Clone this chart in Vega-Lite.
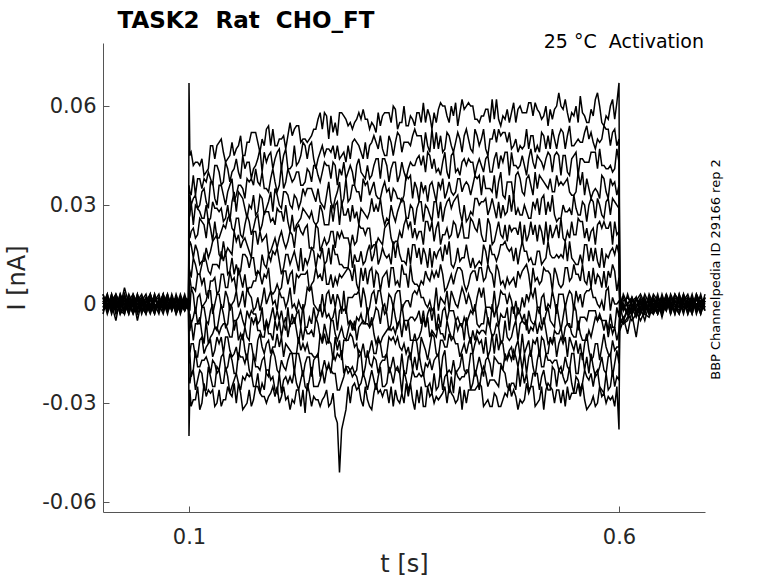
{
"$schema":"https://vega.github.io/schema/vega-lite/v6.json",
"width":602,"height":469,
"autosize":{"type":"none"},
"padding":{"left":103,"top":43,"right":73,"bottom":71},
"background":"white",
"config":{"view":{"stroke":null},"font":"DejaVu Sans"},
"layer":[
{
"data":{"values":[
{"t":0,"a":0.001,"b":-0.002,"c":0.003,"d":0,"e":-0.001,"f":0.002,"g":-0.003,"h":0.001,"i":0,"j":-0.002,"k":0.002,"l":-0.001,"m":0.003,"n":-0.002,"o":0},
{"t":0.005,"a":-0.002,"b":0.001,"c":-0.001,"d":0.003,"e":0,"f":-0.003,"g":0.002,"h":-0.001,"i":0.002,"j":0.001,"k":-0.002,"l":0.003,"m":-0.001,"n":0,"o":0.002},
{"t":0.01,"a":0.003,"b":-0.001,"c":0,"d":-0.002,"e":0.002,"f":0.001,"g":-0.001,"h":0.003,"i":-0.003,"j":0,"k":0.001,"l":-0.002,"m":0.002,"n":0.001,"o":-0.001},
{"t":0.015,"a":-0.001,"b":0.002,"c":-0.005,"d":0.001,"e":-0.002,"f":0,"g":0.003,"h":-0.002,"i":0.001,"j":0.002,"k":-0.001,"l":0,"m":-0.003,"n":0.003,"o":0.001},
{"t":0.02,"a":0,"b":-0.003,"c":0.002,"d":-0.001,"e":0.003,"f":-0.002,"g":0,"h":0.002,"i":-0.001,"j":-0.003,"k":0.003,"l":0.001,"m":0,"n":-0.001,"o":-0.002},
{"t":0.025,"a":0.002,"b":0.001,"c":-0.002,"d":0.003,"e":-0.001,"f":0.003,"g":-0.002,"h":0,"i":0.002,"j":-0.001,"k":0,"l":-0.003,"m":0.001,"n":0.005,"o":-0.003},
{"t":0.03,"a":-0.003,"b":0,"c":0.001,"d":-0.002,"e":0.001,"f":-0.001,"g":0.001,"h":-0.003,"i":0,"j":0.003,"k":-0.002,"l":0.002,"m":-0.002,"n":0,"o":0.002},
{"t":0.035,"a":0.001,"b":-0.002,"c":0.003,"d":0,"e":-0.003,"f":0.002,"g":-0.001,"h":0.002,"i":-0.002,"j":0,"k":0.001,"l":-0.001,"m":0.003,"n":-0.003,"o":0},
{"t":0.04,"a":-0.001,"b":0.003,"c":-0.001,"d":0.002,"e":0,"f":-0.002,"g":0.003,"h":-0.005,"i":0.001,"j":-0.002,"k":-0.003,"l":0.002,"m":0,"n":0.001,"o":-0.001},
{"t":0.045,"a":0.002,"b":-0.001,"c":0,"d":-0.003,"e":0.002,"f":0.001,"g":-0.002,"h":0.001,"i":0.003,"j":0.001,"k":0,"l":-0.002,"m":-0.001,"n":0.002,"o":0.001},
{"t":0.05,"a":0,"b":0.002,"c":-0.002,"d":0.001,"e":-0.001,"f":-0.003,"g":0,"h":0.003,"i":-0.001,"j":-0.001,"k":0.002,"l":0.001,"m":-0.003,"n":0,"o":-0.002},
{"t":0.055,"a":-0.002,"b":0,"c":0.001,"d":-0.001,"e":0.003,"f":0.002,"g":-0.003,"h":-0.002,"i":0,"j":0.002,"k":-0.001,"l":0.003,"m":0.001,"n":-0.002,"o":0.003},
{"t":0.06,"a":0.003,"b":-0.003,"c":0.002,"d":0.002,"e":-0.002,"f":0,"g":0.001,"h":0,"i":-0.003,"j":-0.002,"k":0.003,"l":-0.001,"m":0.002,"n":0.001,"o":-0.001},
{"t":0.065,"a":-0.001,"b":0.001,"c":-0.001,"d":-0.002,"e":0.001,"f":-0.001,"g":0.002,"h":-0.003,"i":0.002,"j":0,"k":-0.002,"l":0,"m":-0.001,"n":0.003,"o":0},
{"t":0.07,"a":0.001,"b":-0.002,"c":0.003,"d":0,"e":-0.001,"f":0.003,"g":-0.001,"h":0.002,"i":-0.001,"j":0.003,"k":0.001,"l":-0.003,"m":0,"n":-0.002,"o":0.002},
{"t":0.075,"a":-0.003,"b":0.002,"c":-0.002,"d":0.003,"e":0,"f":-0.002,"g":0.003,"h":-0.001,"i":0.001,"j":-0.001,"k":-0.002,"l":0.002,"m":-0.002,"n":0,"o":-0.001},
{"t":0.08,"a":0.002,"b":0,"c":0,"d":-0.001,"e":0.002,"f":0.001,"g":-0.002,"h":0.001,"i":-0.002,"j":0.002,"k":0,"l":-0.001,"m":0.003,"n":-0.001,"o":0.001},
{"t":0.085,"a":0,"b":-0.001,"c":0.002,"d":0.001,"e":-0.003,"f":0,"g":0.001,"h":-0.002,"i":0.003,"j":-0.002,"k":0.002,"l":0.001,"m":-0.001,"n":0.002,"o":-0.003},
{"t":0.09,"a":-0.002,"b":0.003,"c":-0.001,"d":-0.002,"e":0.001,"f":-0.001,"g":0,"h":0.002,"i":-0.001,"j":0.001,"k":-0.001,"l":-0.002,"m":0.002,"n":-0.003,"o":0},
{"t":0.095,"a":0.001,"b":-0.001,"c":0.001,"d":0.002,"e":-0.002,"f":0.002,"g":-0.002,"h":0,"i":0.001,"j":-0.001,"k":0.003,"l":0,"m":-0.002,"n":0.001,"o":0.002},
{"t":0.0995,"a":-0.001,"b":0,"c":-0.002,"d":0,"e":0.001,"f":-0.001,"g":0.001,"h":-0.001,"i":0,"j":0.002,"k":-0.001,"l":0.001,"m":0,"n":-0.001,"o":0.001},
{"t":0.1,"a":-0.04,"b":-0.023,"c":-0.018,"d":-0.013,"e":-0.008,"f":-0.004,"g":0.001,"h":0.006,"i":0.011,"j":0.016,"k":0.021,"l":0.026,"m":0.031,"n":0.036,"o":0.067},
{"t":0.101,"a":-0.026,"b":-0.024,"c":-0.015,"d":-0.015,"e":-0.008,"f":-0.003,"g":-0.002,"h":0.008,"i":0.01,"j":0.019,"k":0.02,"l":0.027,"m":0.033,"n":0.034,"o":0.045},
{"t":0.105,"a":-0.029,"b":-0.02,"c":-0.02,"d":-0.012,"e":-0.011,"f":-0.004,"g":0.003,"h":0.005,"i":0.014,"j":0.014,"k":0.023,"l":0.024,"m":0.032,"n":0.039,"o":0.042},
{"t":0.11,"a":-0.025,"b":-0.023,"c":-0.019,"d":-0.016,"e":-0.006,"f":-0.006,"g":0.002,"h":0.009,"i":0.009,"j":0.016,"k":0.021,"l":0.029,"m":0.029,"n":0.038,"o":0.043},
{"t":0.115,"a":-0.03,"b":-0.021,"c":-0.017,"d":-0.01,"e":-0.009,"f":-0.001,"g":-0.001,"h":0.006,"i":0.012,"j":0.013,"k":0.025,"l":0.026,"m":0.034,"n":0.035,"o":0.044},
{"t":0.12,"a":-0.028,"b":-0.026,"c":-0.016,"d":-0.013,"e":-0.005,"f":-0.005,"g":0.001,"h":0.003,"i":0.013,"j":0.017,"k":0.02,"l":0.03,"m":0.031,"n":0.037,"o":0.04},
{"t":0.125,"a":-0.027,"b":-0.022,"c":-0.021,"d":-0.011,"e":-0.01,"f":-0.002,"g":0.004,"h":0.007,"i":0.009,"j":0.016,"k":0.023,"l":0.026,"m":0.037,"n":0.038,"o":0.048},
{"t":0.13,"a":-0.031,"b":-0.025,"c":-0.018,"d":-0.014,"e":-0.007,"f":-0.007,"g":0,"h":0.008,"i":0.012,"j":0.02,"k":0.025,"l":0.029,"m":0.032,"n":0.042,"o":0.044},
{"t":0.135,"a":-0.026,"b":-0.02,"c":-0.02,"d":-0.012,"e":-0.009,"f":-0.004,"g":0.003,"h":0.004,"i":0.011,"j":0.015,"k":0.02,"l":0.028,"m":0.036,"n":0.04,"o":0.049},
{"t":0.14,"a":-0.029,"b":-0.024,"c":-0.015,"d":-0.015,"e":-0.006,"f":-0.003,"g":-0.001,"h":0.009,"i":0.013,"j":0.019,"k":0.024,"l":0.025,"m":0.033,"n":0.037,"o":0.046},
{"t":0.145,"a":-0.025,"b":-0.022,"c":-0.019,"d":-0.01,"e":-0.008,"f":-0.006,"g":0.002,"h":0.005,"i":0.009,"j":0.017,"k":0.026,"l":0.03,"m":0.034,"n":0.041,"o":0.044},
{"t":0.15,"a":-0.028,"b":-0.025,"c":-0.017,"d":-0.016,"e":-0.01,"f":-0.001,"g":0,"h":0.007,"i":0.014,"j":0.015,"k":0.023,"l":0.031,"m":0.038,"n":0.04,"o":0.049},
{"t":0.155,"a":-0.03,"b":-0.021,"c":-0.021,"d":-0.013,"e":-0.005,"f":-0.005,"g":0.004,"h":0.004,"i":0.012,"j":0.019,"k":0.026,"l":0.028,"m":0.033,"n":0.044,"o":0.047},
{"t":0.16,"a":-0.027,"b":-0.026,"c":-0.016,"d":-0.011,"e":-0.009,"f":-0.002,"g":0.001,"h":0.008,"i":0.01,"j":0.017,"k":0.021,"l":0.033,"m":0.036,"n":0.038,"o":0.051},
{"t":0.165,"a":-0.031,"b":-0.023,"c":-0.018,"d":-0.014,"e":-0.007,"f":-0.007,"g":-0.001,"h":0.009,"i":0.015,"j":0.02,"k":0.024,"l":0.029,"m":0.032,"n":0.041,"o":0.045},
{"t":0.17,"a":-0.026,"b":-0.022,"c":-0.02,"d":-0.012,"e":-0.011,"f":-0.004,"g":0.003,"h":0.005,"i":0.011,"j":0.016,"k":0.025,"l":0.03,"m":0.037,"n":0.043,"o":0.049},
{"t":0.175,"a":-0.029,"b":-0.025,"c":-0.015,"d":-0.016,"e":-0.006,"f":-0.003,"g":-0.002,"h":0.007,"i":0.014,"j":0.022,"k":0.023,"l":0.033,"m":0.036,"n":0.041,"o":0.052},
{"t":0.18,"a":-0.025,"b":-0.021,"c":-0.019,"d":-0.011,"e":-0.008,"f":-0.006,"g":0.002,"h":0.01,"i":0.01,"j":0.018,"k":0.027,"l":0.028,"m":0.037,"n":0.044,"o":0.049},
{"t":0.185,"a":-0.028,"b":-0.024,"c":-0.017,"d":-0.013,"e":-0.01,"f":-0.001,"g":0.001,"h":0.006,"i":0.015,"j":0.019,"k":0.024,"l":0.032,"m":0.04,"n":0.04,"o":0.05},
{"t":0.19,"a":-0.03,"b":-0.02,"c":-0.021,"d":-0.012,"e":-0.005,"f":-0.005,"g":0,"h":0.008,"i":0.011,"j":0.021,"k":0.028,"l":0.029,"m":0.035,"n":0.043,"o":0.053},
{"t":0.195,"a":-0.027,"b":-0.023,"c":-0.016,"d":-0.015,"e":-0.009,"f":-0.004,"g":0.004,"h":0.004,"i":0.013,"j":0.016,"k":0.025,"l":0.034,"m":0.038,"n":0.046,"o":0.048},
{"t":0.2,"a":-0.028,"b":-0.026,"c":-0.016,"d":-0.013,"e":-0.005,"f":-0.005,"g":0.001,"h":0.004,"i":0.015,"j":0.02,"k":0.024,"l":0.035,"m":0.037,"n":0.044,"o":0.048},
{"t":0.205,"a":-0.03,"b":-0.021,"c":-0.021,"d":-0.013,"e":-0.005,"f":-0.005,"g":0.004,"h":0.004,"i":0.013,"j":0.02,"k":0.028,"l":0.03,"m":0.036,"n":0.047,"o":0.05},
{"t":0.21,"a":-0.025,"b":-0.023,"c":-0.019,"d":-0.016,"e":-0.006,"f":-0.006,"g":0.002,"h":0.01,"i":0.011,"j":0.019,"k":0.025,"l":0.034,"m":0.035,"n":0.045,"o":0.051},
{"t":0.215,"a":-0.028,"b":-0.024,"c":-0.017,"d":-0.013,"e":-0.01,"f":-0.001,"g":0.001,"h":0.006,"i":0.015,"j":0.019,"k":0.025,"l":0.033,"m":0.041,"n":0.041,"o":0.051},
{"t":0.22,"a":-0.029,"b":-0.024,"c":-0.015,"d":-0.015,"e":-0.006,"f":-0.003,"g":-0.001,"h":0.01,"i":0.014,"j":0.021,"k":0.027,"l":0.029,"m":0.037,"n":0.042,"o":0.051},
{"t":0.225,"a":-0.026,"b":-0.024,"c":-0.015,"d":-0.015,"e":-0.008,"f":-0.003,"g":-0.002,"h":0.009,"i":0.013,"j":0.023,"k":0.024,"l":0.032,"m":0.04,"n":0.042,"o":0.054},
{"t":0.23,"a":-0.031,"b":-0.023,"c":-0.018,"d":-0.014,"e":-0.007,"f":-0.007,"g":-0.001,"h":0.009,"i":0.017,"j":0.022,"k":0.026,"l":0.031,"m":0.036,"n":0.045,"o":0.049},
{"t":0.235,"a":-0.033,"b":-0.025,"c":-0.018,"d":-0.014,"e":-0.007,"f":-0.007,"g":0,"h":0.009,"i":0.014,"j":0.023,"k":0.028,"l":0.033,"m":0.037,"n":0.048,"o":0.05},
{"t":0.24,"a":-0.027,"b":-0.023,"c":-0.016,"d":-0.015,"e":-0.009,"f":-0.004,"g":0.004,"h":0.004,"i":0.014,"j":0.017,"k":0.026,"l":0.035,"m":0.04,"n":0.048,"o":0.05},
{"t":0.245,"a":-0.028,"b":-0.025,"c":-0.017,"d":-0.016,"e":-0.01,"f":-0.001,"g":0,"h":0.007,"i":0.016,"j":0.017,"k":0.025,"l":0.033,"m":0.042,"n":0.044,"o":0.053},
{"t":0.25,"a":-0.029,"b":-0.025,"c":-0.015,"d":-0.016,"e":-0.006,"f":-0.003,"g":-0.002,"h":0.008,"i":0.015,"j":0.023,"k":0.025,"l":0.035,"m":0.039,"n":0.044,"o":0.056},
{"t":0.255,"a":-0.029,"b":-0.02,"c":-0.02,"d":-0.012,"e":-0.011,"f":-0.004,"g":0.003,"h":0.007,"i":0.017,"j":0.018,"k":0.028,"l":0.03,"m":0.04,"n":0.048,"o":0.053},
{"t":0.26,"a":-0.026,"b":-0.02,"c":-0.02,"d":-0.012,"e":-0.009,"f":-0.004,"g":0.003,"h":0.006,"i":0.013,"j":0.018,"k":0.024,"l":0.033,"m":0.042,"n":0.047,"o":0.057},
{"t":0.265,"a":-0.03,"b":-0.02,"c":-0.021,"d":-0.012,"e":-0.005,"f":-0.005,"g":0,"h":0.009,"i":0.012,"j":0.022,"k":0.03,"l":0.031,"m":0.038,"n":0.046,"o":0.057},
{"t":0.27,"a":-0.034,"b":-0.021,"c":-0.017,"d":-0.01,"e":-0.009,"f":-0.001,"g":-0.001,"h":0.008,"i":0.015,"j":0.017,"k":0.03,"l":0.032,"m":0.042,"n":0.044,"o":0.055},
{"t":0.275,"a":-0.051,"b":-0.026,"c":-0.016,"d":-0.011,"e":-0.009,"f":-0.002,"g":0.001,"h":0.009,"i":0.012,"j":0.02,"k":0.024,"l":0.037,"m":0.041,"n":0.044,"o":0.058},
{"t":0.28,"a":-0.035,"b":-0.022,"c":-0.021,"d":-0.011,"e":-0.01,"f":-0.002,"g":0.004,"h":0.009,"i":0.011,"j":0.02,"k":0.027,"l":0.032,"m":0.043,"n":0.046,"o":0.057},
{"t":0.285,"a":-0.025,"b":-0.021,"c":-0.019,"d":-0.011,"e":-0.008,"f":-0.006,"g":0.002,"h":0.011,"i":0.011,"j":0.02,"k":0.029,"l":0.031,"m":0.04,"n":0.048,"o":0.054},
{"t":0.29,"a":-0.025,"b":-0.022,"c":-0.019,"d":-0.01,"e":-0.008,"f":-0.006,"g":0.002,"h":0.007,"i":0.011,"j":0.021,"k":0.03,"l":0.036,"m":0.04,"n":0.049,"o":0.053},
{"t":0.295,"a":-0.026,"b":-0.022,"c":-0.02,"d":-0.012,"e":-0.011,"f":-0.004,"g":0.003,"h":0.006,"i":0.013,"j":0.019,"k":0.028,"l":0.034,"m":0.042,"n":0.049,"o":0.056},
{"t":0.3,"a":-0.029,"b":-0.024,"c":-0.015,"d":-0.015,"e":-0.006,"f":-0.003,"g":-0.001,"h":0.011,"i":0.016,"j":0.023,"k":0.029,"l":0.031,"m":0.04,"n":0.046,"o":0.056},
{"t":0.305,"a":-0.025,"b":-0.023,"c":-0.019,"d":-0.016,"e":-0.006,"f":-0.006,"g":0.002,"h":0.011,"i":0.013,"j":0.021,"k":0.027,"l":0.036,"m":0.038,"n":0.049,"o":0.056},
{"t":0.31,"a":-0.031,"b":-0.023,"c":-0.018,"d":-0.014,"e":-0.007,"f":-0.007,"g":-0.001,"h":0.01,"i":0.018,"j":0.023,"k":0.028,"l":0.033,"m":0.038,"n":0.048,"o":0.053},
{"t":0.315,"a":-0.027,"b":-0.023,"c":-0.016,"d":-0.015,"e":-0.009,"f":-0.004,"g":0.004,"h":0.005,"i":0.015,"j":0.018,"k":0.028,"l":0.037,"m":0.042,"n":0.051,"o":0.054},
{"t":0.32,"a":-0.027,"b":-0.022,"c":-0.021,"d":-0.011,"e":-0.01,"f":-0.002,"g":0.004,"h":0.009,"i":0.012,"j":0.02,"k":0.028,"l":0.032,"m":0.044,"n":0.047,"o":0.058},
{"t":0.325,"a":-0.028,"b":-0.025,"c":-0.017,"d":-0.016,"e":-0.01,"f":-0.001,"g":0,"h":0.008,"i":0.017,"j":0.018,"k":0.027,"l":0.035,"m":0.044,"n":0.047,"o":0.057},
{"t":0.33,"a":-0.026,"b":-0.024,"c":-0.015,"d":-0.015,"e":-0.008,"f":-0.003,"g":-0.002,"h":0.01,"i":0.014,"j":0.024,"k":0.026,"l":0.034,"m":0.042,"n":0.045,"o":0.058},
{"t":0.335,"a":-0.025,"b":-0.021,"c":-0.019,"d":-0.011,"e":-0.008,"f":-0.006,"g":0.002,"h":0.011,"i":0.012,"j":0.02,"k":0.03,"l":0.031,"m":0.041,"n":0.049,"o":0.055},
{"t":0.34,"a":-0.026,"b":-0.02,"c":-0.02,"d":-0.012,"e":-0.009,"f":-0.004,"g":0.003,"h":0.006,"i":0.014,"j":0.019,"k":0.025,"l":0.034,"m":0.043,"n":0.049,"o":0.059},
{"t":0.345,"a":-0.03,"b":-0.021,"c":-0.021,"d":-0.013,"e":-0.005,"f":-0.005,"g":0.004,"h":0.005,"i":0.015,"j":0.022,"k":0.03,"l":0.032,"m":0.039,"n":0.051,"o":0.055},
{"t":0.35,"a":-0.03,"b":-0.02,"c":-0.021,"d":-0.012,"e":-0.005,"f":-0.005,"g":0,"h":0.009,"i":0.013,"j":0.024,"k":0.031,"l":0.033,"m":0.04,"n":0.049,"o":0.06},
{"t":0.355,"a":-0.028,"b":-0.026,"c":-0.016,"d":-0.013,"e":-0.005,"f":-0.005,"g":0.001,"h":0.005,"i":0.017,"j":0.023,"k":0.026,"l":0.038,"m":0.041,"n":0.049,"o":0.054},
{"t":0.36,"a":-0.029,"b":-0.02,"c":-0.02,"d":-0.012,"e":-0.011,"f":-0.004,"g":0.003,"h":0.007,"i":0.018,"j":0.02,"k":0.029,"l":0.032,"m":0.042,"n":0.051,"o":0.056},
{"t":0.365,"a":-0.026,"b":-0.022,"c":-0.02,"d":-0.012,"e":-0.011,"f":-0.004,"g":0.003,"h":0.006,"i":0.014,"j":0.02,"k":0.029,"l":0.035,"m":0.044,"n":0.051,"o":0.058},
{"t":0.37,"a":-0.025,"b":-0.022,"c":-0.019,"d":-0.01,"e":-0.008,"f":-0.006,"g":0.002,"h":0.007,"i":0.012,"j":0.022,"k":0.031,"l":0.037,"m":0.042,"n":0.051,"o":0.055},
{"t":0.375,"a":-0.031,"b":-0.025,"c":-0.018,"d":-0.014,"e":-0.007,"f":-0.007,"g":0,"h":0.01,"i":0.015,"j":0.025,"k":0.03,"l":0.036,"m":0.04,"n":0.052,"o":0.055},
{"t":0.38,"a":-0.028,"b":-0.024,"c":-0.017,"d":-0.013,"e":-0.01,"f":-0.001,"g":0.001,"h":0.007,"i":0.017,"j":0.022,"k":0.027,"l":0.036,"m":0.045,"n":0.046,"o":0.057},
{"t":0.385,"a":-0.03,"b":-0.021,"c":-0.017,"d":-0.01,"e":-0.009,"f":-0.001,"g":-0.001,"h":0.008,"i":0.016,"j":0.019,"k":0.031,"l":0.034,"m":0.044,"n":0.047,"o":0.058},
{"t":0.39,"a":-0.029,"b":-0.025,"c":-0.015,"d":-0.016,"e":-0.006,"f":-0.003,"g":-0.002,"h":0.008,"i":0.016,"j":0.025,"k":0.026,"l":0.037,"m":0.041,"n":0.047,"o":0.059},
{"t":0.395,"a":-0.027,"b":-0.026,"c":-0.016,"d":-0.011,"e":-0.009,"f":-0.002,"g":0.001,"h":0.009,"i":0.013,"j":0.021,"k":0.025,"l":0.038,"m":0.043,"n":0.046,"o":0.06},
{"t":0.4,"a":-0.03,"b":-0.021,"c":-0.021,"d":-0.013,"e":-0.005,"f":-0.005,"g":0.004,"h":0.005,"i":0.015,"j":0.023,"k":0.031,"l":0.034,"m":0.04,"n":0.052,"o":0.057},
{"t":0.405,"a":-0.027,"b":-0.022,"c":-0.021,"d":-0.011,"e":-0.01,"f":-0.002,"g":0.004,"h":0.009,"i":0.012,"j":0.021,"k":0.029,"l":0.034,"m":0.045,"n":0.048,"o":0.06},
{"t":0.41,"a":-0.03,"b":-0.02,"c":-0.021,"d":-0.012,"e":-0.005,"f":-0.005,"g":0,"h":0.009,"i":0.013,"j":0.024,"k":0.032,"l":0.034,"m":0.04,"n":0.049,"o":0.061},
{"t":0.415,"a":-0.025,"b":-0.023,"c":-0.019,"d":-0.016,"e":-0.006,"f":-0.006,"g":0.002,"h":0.011,"i":0.013,"j":0.022,"k":0.028,"l":0.038,"m":0.039,"n":0.05,"o":0.058},
{"t":0.42,"a":-0.026,"b":-0.022,"c":-0.02,"d":-0.012,"e":-0.011,"f":-0.004,"g":0.003,"h":0.006,"i":0.014,"j":0.02,"k":0.03,"l":0.036,"m":0.044,"n":0.051,"o":0.059},
{"t":0.425,"a":-0.026,"b":-0.02,"c":-0.02,"d":-0.012,"e":-0.009,"f":-0.004,"g":0.003,"h":0.006,"i":0.014,"j":0.02,"k":0.026,"l":0.036,"m":0.044,"n":0.05,"o":0.061},
{"t":0.43,"a":-0.026,"b":-0.024,"c":-0.015,"d":-0.015,"e":-0.008,"f":-0.003,"g":-0.002,"h":0.01,"i":0.014,"j":0.025,"k":0.027,"l":0.036,"m":0.043,"n":0.046,"o":0.06},
{"t":0.435,"a":-0.025,"b":-0.022,"c":-0.019,"d":-0.01,"e":-0.008,"f":-0.006,"g":0.002,"h":0.007,"i":0.012,"j":0.022,"k":0.032,"l":0.038,"m":0.042,"n":0.051,"o":0.056},
{"t":0.44,"a":-0.025,"b":-0.021,"c":-0.019,"d":-0.011,"e":-0.008,"f":-0.006,"g":0.002,"h":0.011,"i":0.012,"j":0.021,"k":0.031,"l":0.033,"m":0.042,"n":0.05,"o":0.057},
{"t":0.445,"a":-0.03,"b":-0.021,"c":-0.017,"d":-0.01,"e":-0.009,"f":-0.001,"g":-0.001,"h":0.008,"i":0.016,"j":0.019,"k":0.032,"l":0.035,"m":0.044,"n":0.047,"o":0.059},
{"t":0.45,"a":-0.031,"b":-0.023,"c":-0.018,"d":-0.014,"e":-0.007,"f":-0.007,"g":-0.001,"h":0.01,"i":0.018,"j":0.024,"k":0.029,"l":0.035,"m":0.04,"n":0.05,"o":0.055},
{"t":0.455,"a":-0.027,"b":-0.023,"c":-0.016,"d":-0.015,"e":-0.009,"f":-0.004,"g":0.004,"h":0.005,"i":0.015,"j":0.019,"k":0.029,"l":0.039,"m":0.044,"n":0.053,"o":0.056},
{"t":0.46,"a":-0.031,"b":-0.025,"c":-0.018,"d":-0.014,"e":-0.007,"f":-0.007,"g":0,"h":0.01,"i":0.015,"j":0.025,"k":0.031,"l":0.037,"m":0.041,"n":0.053,"o":0.056},
{"t":0.465,"a":-0.029,"b":-0.02,"c":-0.02,"d":-0.012,"e":-0.011,"f":-0.004,"g":0.003,"h":0.007,"i":0.018,"j":0.02,"k":0.03,"l":0.033,"m":0.043,"n":0.052,"o":0.057},
{"t":0.47,"a":-0.028,"b":-0.025,"c":-0.017,"d":-0.016,"e":-0.01,"f":-0.001,"g":0,"h":0.008,"i":0.017,"j":0.019,"k":0.028,"l":0.037,"m":0.046,"n":0.049,"o":0.059},
{"t":0.475,"a":-0.028,"b":-0.024,"c":-0.017,"d":-0.013,"e":-0.01,"f":-0.001,"g":0.001,"h":0.007,"i":0.017,"j":0.022,"k":0.028,"l":0.037,"m":0.046,"n":0.047,"o":0.058},
{"t":0.48,"a":-0.028,"b":-0.026,"c":-0.016,"d":-0.013,"e":-0.005,"f":-0.005,"g":0.001,"h":0.005,"i":0.017,"j":0.023,"k":0.027,"l":0.039,"m":0.042,"n":0.05,"o":0.055},
{"t":0.485,"a":-0.029,"b":-0.025,"c":-0.015,"d":-0.016,"e":-0.006,"f":-0.003,"g":-0.002,"h":0.008,"i":0.016,"j":0.025,"k":0.027,"l":0.038,"m":0.042,"n":0.048,"o":0.06},
{"t":0.49,"a":-0.029,"b":-0.024,"c":-0.015,"d":-0.015,"e":-0.006,"f":-0.003,"g":-0.001,"h":0.011,"i":0.016,"j":0.024,"k":0.03,"l":0.033,"m":0.042,"n":0.048,"o":0.058},
{"t":0.495,"a":-0.027,"b":-0.026,"c":-0.016,"d":-0.011,"e":-0.009,"f":-0.002,"g":0.001,"h":0.009,"i":0.013,"j":0.021,"k":0.026,"l":0.039,"m":0.044,"n":0.047,"o":0.061},
{"t":0.5,"a":-0.025,"b":-0.021,"c":-0.019,"d":-0.011,"e":-0.008,"f":-0.006,"g":0.002,"h":0.011,"i":0.012,"j":0.021,"k":0.031,"l":0.033,"m":0.043,"n":0.051,"o":0.057},
{"t":0.505,"a":-0.03,"b":-0.021,"c":-0.017,"d":-0.01,"e":-0.009,"f":-0.001,"g":-0.001,"h":0.008,"i":0.016,"j":0.019,"k":0.032,"l":0.035,"m":0.045,"n":0.048,"o":0.059},
{"t":0.51,"a":-0.025,"b":-0.022,"c":-0.019,"d":-0.01,"e":-0.008,"f":-0.006,"g":0.002,"h":0.007,"i":0.012,"j":0.022,"k":0.032,"l":0.038,"m":0.043,"n":0.052,"o":0.056},
{"t":0.515,"a":-0.026,"b":-0.024,"c":-0.015,"d":-0.015,"e":-0.008,"f":-0.003,"g":-0.002,"h":0.01,"i":0.014,"j":0.025,"k":0.027,"l":0.036,"m":0.044,"n":0.047,"o":0.06},
{"t":0.52,"a":-0.025,"b":-0.026,"c":-0.017,"d":-0.01,"e":-0.011,"f":-0.005,"g":-0.001,"h":0.009,"i":0.015,"j":0.024,"k":0.028,"l":0.038,"m":0.045,"n":0.047,"o":0.059},
{"t":0.525,"a":-0.03,"b":-0.02,"c":-0.017,"d":-0.01,"e":-0.008,"f":-0.007,"g":0.001,"h":0.011,"i":0.014,"j":0.022,"k":0.027,"l":0.034,"m":0.045,"n":0.05,"o":0.059},
{"t":0.53,"a":-0.026,"b":-0.02,"c":-0.02,"d":-0.012,"e":-0.009,"f":-0.004,"g":0.003,"h":0.006,"i":0.014,"j":0.02,"k":0.026,"l":0.036,"m":0.045,"n":0.051,"o":0.064},
{"t":0.535,"a":-0.026,"b":-0.022,"c":-0.02,"d":-0.012,"e":-0.011,"f":-0.004,"g":0.003,"h":0.006,"i":0.014,"j":0.02,"k":0.03,"l":0.036,"m":0.045,"n":0.052,"o":0.059},
{"t":0.54,"a":-0.025,"b":-0.023,"c":-0.019,"d":-0.016,"e":-0.006,"f":-0.006,"g":0.002,"h":0.011,"i":0.013,"j":0.022,"k":0.028,"l":0.038,"m":0.04,"n":0.051,"o":0.058},
{"t":0.545,"a":-0.027,"b":-0.024,"c":-0.015,"d":-0.012,"e":-0.009,"f":-0.007,"g":0.003,"h":0.008,"i":0.014,"j":0.025,"k":0.027,"l":0.033,"m":0.044,"n":0.048,"o":0.058},
{"t":0.55,"a":-0.027,"b":-0.022,"c":-0.021,"d":-0.011,"e":-0.01,"f":-0.002,"g":0.004,"h":0.009,"i":0.012,"j":0.021,"k":0.029,"l":0.034,"m":0.046,"n":0.049,"o":0.06},
{"t":0.555,"a":-0.028,"b":-0.026,"c":-0.015,"d":-0.012,"e":-0.009,"f":-0.004,"g":0.003,"h":0.007,"i":0.015,"j":0.025,"k":0.027,"l":0.036,"m":0.044,"n":0.049,"o":0.063},
{"t":0.56,"a":-0.029,"b":-0.02,"c":-0.02,"d":-0.012,"e":-0.011,"f":-0.004,"g":0.003,"h":0.007,"i":0.018,"j":0.02,"k":0.03,"l":0.033,"m":0.043,"n":0.052,"o":0.057},
{"t":0.565,"a":-0.031,"b":-0.023,"c":-0.021,"d":-0.014,"e":-0.008,"f":-0.002,"g":0.004,"h":0.01,"i":0.013,"j":0.019,"k":0.03,"l":0.035,"m":0.043,"n":0.05,"o":0.055},
{"t":0.57,"a":-0.028,"b":-0.025,"c":-0.019,"d":-0.016,"e":-0.007,"f":-0.002,"g":0.002,"h":0.011,"i":0.013,"j":0.023,"k":0.031,"l":0.034,"m":0.046,"n":0.049,"o":0.057},
{"t":0.575,"a":-0.03,"b":-0.02,"c":-0.021,"d":-0.012,"e":-0.005,"f":-0.005,"g":0,"h":0.009,"i":0.013,"j":0.024,"k":0.032,"l":0.034,"m":0.041,"n":0.05,"o":0.064},
{"t":0.58,"a":-0.028,"b":-0.026,"c":-0.016,"d":-0.013,"e":-0.005,"f":-0.005,"g":0.001,"h":0.005,"i":0.017,"j":0.023,"k":0.027,"l":0.039,"m":0.042,"n":0.05,"o":0.055},
{"t":0.585,"a":-0.03,"b":-0.021,"c":-0.021,"d":-0.013,"e":-0.005,"f":-0.005,"g":0.004,"h":0.005,"i":0.015,"j":0.023,"k":0.031,"l":0.034,"m":0.041,"n":0.053,"o":0.057},
{"t":0.59,"a":-0.029,"b":-0.025,"c":-0.015,"d":-0.016,"e":-0.006,"f":-0.003,"g":-0.002,"h":0.008,"i":0.016,"j":0.025,"k":0.027,"l":0.038,"m":0.042,"n":0.048,"o":0.06},
{"t":0.595,"a":-0.031,"b":-0.025,"c":-0.018,"d":-0.014,"e":-0.007,"f":-0.007,"g":0,"h":0.01,"i":0.015,"j":0.025,"k":0.031,"l":0.037,"m":0.041,"n":0.053,"o":0.056},
{"t":0.6,"a":-0.038,"b":-0.023,"c":-0.018,"d":-0.013,"e":-0.008,"f":-0.004,"g":0.001,"h":0.008,"i":0.015,"j":0.022,"k":0.029,"l":0.036,"m":0.043,"n":0.05,"o":0.067},
{"t":0.601,"a":0.001,"b":-0.002,"c":0.003,"d":0,"e":-0.003,"f":0.002,"g":-0.001,"h":0,"i":-0.004,"j":-0.002,"k":-0.004,"l":-0.006,"m":-0.002,"n":-0.008,"o":-0.005},
{"t":0.605,"a":-0.002,"b":0.003,"c":-0.001,"d":0.002,"e":0.001,"f":-0.001,"g":0,"h":-0.005,"i":0,"j":-0.001,"k":-0.006,"l":-0.004,"m":-0.001,"n":-0.005,"o":-0.006},
{"t":0.61,"a":0.003,"b":0,"c":-0.002,"d":-0.001,"e":0.002,"f":0,"g":-0.003,"h":-0.001,"i":-0.003,"j":0,"k":-0.004,"l":-0.009,"m":-0.003,"n":-0.002,"o":-0.005},
{"t":0.615,"a":-0.001,"b":0.002,"c":0.001,"d":-0.003,"e":0,"f":0.002,"g":0.001,"h":-0.003,"i":0.002,"j":-0.002,"k":-0.001,"l":-0.002,"m":-0.005,"n":-0.003,"o":0},
{"t":0.62,"a":0.002,"b":-0.003,"c":0,"d":0.001,"e":-0.002,"f":-0.001,"g":0.002,"h":-0.001,"i":-0.003,"j":0.002,"k":-0.004,"l":-0.001,"m":-0.003,"n":-0.01,"o":-0.002},
{"t":0.625,"a":0,"b":0.001,"c":-0.001,"d":0.003,"e":-0.001,"f":0.001,"g":-0.002,"h":0.002,"i":-0.001,"j":-0.003,"k":-0.001,"l":-0.003,"m":0.001,"n":-0.001,"o":-0.005},
{"t":0.63,"a":-0.003,"b":-0.001,"c":0.002,"d":0,"e":0.003,"f":-0.002,"g":0,"h":-0.001,"i":0.001,"j":0,"k":-0.005,"l":0.001,"m":-0.003,"n":0,"o":-0.002},
{"t":0.635,"a":0.001,"b":0.002,"c":-0.003,"d":-0.002,"e":0,"f":0.003,"g":-0.001,"h":0.002,"i":-0.003,"j":0.001,"k":0,"l":-0.002,"m":-0.004,"n":-0.003,"o":0},
{"t":0.64,"a":-0.002,"b":0,"c":0.001,"d":0.002,"e":-0.003,"f":0,"g":0.003,"h":-0.002,"i":0.002,"j":-0.001,"k":-0.001,"l":-0.003,"m":0,"n":0.002,"o":-0.002},
{"t":0.645,"a":0.002,"b":-0.002,"c":0,"d":-0.001,"e":0.001,"f":-0.003,"g":0.001,"h":0,"i":-0.001,"j":0.003,"k":-0.003,"l":0,"m":0.001,"n":-0.003,"o":0},
{"t":0.65,"a":-0.001,"b":0.003,"c":-0.002,"d":0.001,"e":0.002,"f":0.001,"g":-0.002,"h":-0.003,"i":0,"j":-0.002,"k":0.002,"l":-0.002,"m":-0.004,"n":0,"o":-0.003},
{"t":0.655,"a":0.003,"b":-0.001,"c":0.002,"d":-0.002,"e":-0.001,"f":0.002,"g":0,"h":0.001,"i":0.002,"j":0,"k":-0.001,"l":0.003,"m":0.001,"n":-0.002,"o":0},
{"t":0.66,"a":0,"b":0.001,"c":-0.003,"d":0.003,"e":0,"f":-0.002,"g":0.002,"h":-0.001,"i":-0.002,"j":0.001,"k":0.002,"l":-0.003,"m":0,"n":0.002,"o":-0.001},
{"t":0.665,"a":-0.002,"b":-0.003,"c":0.001,"d":0,"e":-0.002,"f":0.001,"g":-0.001,"h":0.003,"i":0.001,"j":-0.003,"k":0,"l":0.002,"m":-0.002,"n":0,"o":0.003},
{"t":0.67,"a":0.001,"b":0.002,"c":0,"d":-0.001,"e":0.003,"f":-0.001,"g":-0.003,"h":0,"i":-0.001,"j":0.002,"k":-0.002,"l":0,"m":0.003,"n":-0.003,"o":0.001},
{"t":0.675,"a":-0.003,"b":0,"c":0.002,"d":0.001,"e":-0.001,"f":0.003,"g":0.001,"h":-0.002,"i":0.003,"j":0,"k":0.001,"l":-0.001,"m":-0.001,"n":0.002,"o":-0.002},
{"t":0.68,"a":0.002,"b":-0.002,"c":-0.001,"d":-0.003,"e":0.001,"f":0,"g":0.002,"h":0.001,"i":-0.003,"j":-0.001,"k":0.003,"l":0.001,"m":0,"n":-0.001,"o":0},
{"t":0.685,"a":0,"b":0.001,"c":0.003,"d":0.002,"e":-0.002,"f":-0.002,"g":-0.001,"h":-0.003,"i":0,"j":0.002,"k":-0.001,"l":-0.002,"m":0.002,"n":0.001,"o":-0.003},
{"t":0.69,"a":-0.001,"b":-0.001,"c":-0.002,"d":0,"e":0.002,"f":0.002,"g":0.003,"h":0.002,"i":0.001,"j":-0.002,"k":0,"l":0.003,"m":-0.003,"n":0,"o":0.002},
{"t":0.695,"a":0.003,"b":0,"c":0.001,"d":-0.001,"e":-0.003,"f":-0.001,"g":0,"h":-0.001,"i":0.002,"j":0.001,"k":-0.003,"l":0,"m":0.001,"n":-0.002,"o":-0.001},
{"t":0.7,"a":-0.002,"b":0.002,"c":0,"d":0.002,"e":0.001,"f":0,"g":-0.002,"h":0.001,"i":-0.001,"j":-0.001,"k":0.002,"l":-0.001,"m":0,"n":0.003,"o":0.001},
{"t":0.1025,"a":-0.031,"b":-0.021,"c":-0.022,"d":-0.012,"e":-0.005,"f":-0.006,"g":0.005,"h":0.005,"i":0.008,"j":0.018,"k":0.022,"l":0.031,"m":0.03,"n":0.033,"o":0.046},
{"t":0.1075,"a":-0.029,"b":-0.026,"c":-0.014,"d":-0.016,"e":-0.006,"f":-0.001,"g":-0.003,"h":0.004,"i":0.012,"j":0.018,"k":0.02,"l":0.03,"m":0.033,"n":0.033,"o":0.043},
{"t":0.1125,"a":-0.032,"b":-0.02,"c":-0.019,"d":-0.011,"e":-0.004,"f":-0.006,"g":0.003,"h":0.009,"i":0.009,"j":0.012,"k":0.026,"l":0.028,"m":0.03,"n":0.038,"o":0.042},
{"t":0.1175,"a":-0.024,"b":-0.026,"c":-0.017,"d":-0.015,"e":-0.012,"f":-0.001,"g":0,"h":0.008,"i":0.015,"j":0.013,"k":0.024,"l":0.026,"m":0.035,"n":0.038,"o":0.039},
{"t":0.1225,"a":-0.026,"b":-0.019,"c":-0.018,"d":-0.012,"e":-0.012,"f":-0.006,"g":0.004,"h":0.002,"i":0.01,"j":0.014,"k":0.026,"l":0.025,"m":0.029,"n":0.04,"o":0.041},
{"t":0.1275,"a":-0.026,"b":-0.025,"c":-0.017,"d":-0.016,"e":-0.009,"f":0,"g":-0.003,"h":0.007,"i":0.012,"j":0.019,"k":0.019,"l":0.031,"m":0.037,"n":0.036,"o":0.048},
{"t":0.1325,"a":-0.03,"b":-0.019,"c":-0.021,"d":-0.01,"e":-0.007,"f":-0.008,"g":0.003,"h":0.003,"i":0.012,"j":0.021,"k":0.02,"l":0.029,"m":0.03,"n":0.042,"o":0.048},
{"t":0.1375,"a":-0.031,"b":-0.024,"c":-0.016,"d":-0.01,"e":-0.007,"f":0,"g":-0.001,"h":0.009,"i":0.016,"j":0.014,"k":0.022,"l":0.029,"m":0.036,"n":0.036,"o":0.05},
{"t":0.1425,"a":-0.029,"b":-0.019,"c":-0.02,"d":-0.01,"e":-0.006,"f":-0.007,"g":0.004,"h":0.005,"i":0.016,"j":0.015,"k":0.023,"l":0.026,"m":0.03,"n":0.043,"o":0.043},
{"t":0.1475,"a":-0.027,"b":-0.027,"c":-0.015,"d":-0.014,"e":-0.01,"f":0,"g":-0.002,"h":0.01,"i":0.01,"j":0.016,"k":0.027,"l":0.025,"m":0.036,"n":0.037,"o":0.045},
{"t":0.1525,"a":-0.024,"b":-0.023,"c":-0.021,"d":-0.015,"e":-0.005,"f":-0.008,"g":0.001,"h":0.008,"i":0.009,"j":0.022,"k":0.022,"l":0.034,"m":0.031,"n":0.041,"o":0.045},
{"t":0.1575,"a":-0.024,"b":-0.024,"c":-0.015,"d":-0.017,"e":-0.011,"f":-0.004,"g":-0.001,"h":0.011,"i":0.009,"j":0.021,"k":0.026,"l":0.034,"m":0.036,"n":0.04,"o":0.048},
{"t":0.1625,"a":-0.032,"b":-0.022,"c":-0.016,"d":-0.009,"e":-0.011,"f":-0.005,"g":0.004,"h":0.005,"i":0.015,"j":0.019,"k":0.02,"l":0.032,"m":0.035,"n":0.045,"o":0.045},
{"t":0.1675,"a":-0.03,"b":-0.021,"c":-0.015,"d":-0.017,"e":-0.01,"f":-0.002,"g":0.005,"h":0.004,"i":0.014,"j":0.018,"k":0.027,"l":0.026,"m":0.038,"n":0.043,"o":0.049},
{"t":0.1725,"a":-0.031,"b":-0.021,"c":-0.022,"d":-0.012,"e":-0.004,"f":-0.002,"g":0.002,"h":0.005,"i":0.014,"j":0.014,"k":0.021,"l":0.029,"m":0.038,"n":0.038,"o":0.052},
{"t":0.1775,"a":-0.025,"b":-0.025,"c":-0.019,"d":-0.017,"e":-0.004,"f":-0.003,"g":-0.001,"h":0.007,"i":0.009,"j":0.022,"k":0.026,"l":0.027,"m":0.041,"n":0.042,"o":0.052},
{"t":0.1825,"a":-0.027,"b":-0.027,"c":-0.02,"d":-0.009,"e":-0.008,"f":-0.005,"g":-0.002,"h":0.009,"i":0.009,"j":0.022,"k":0.022,"l":0.033,"m":0.036,"n":0.047,"o":0.046},
{"t":0.1875,"a":-0.028,"b":-0.026,"c":-0.016,"d":-0.015,"e":-0.01,"f":-0.008,"g":0.005,"h":0.009,"i":0.012,"j":0.02,"k":0.028,"l":0.027,"m":0.035,"n":0.046,"o":0.048},
{"t":0.1925,"a":-0.028,"b":-0.02,"c":-0.022,"d":-0.011,"e":-0.009,"f":-0.007,"g":0.002,"h":0.011,"i":0.015,"j":0.015,"k":0.028,"l":0.031,"m":0.034,"n":0.045,"o":0.054},
{"t":0.1975,"a":-0.025,"b":-0.022,"c":-0.014,"d":-0.013,"e":-0.011,"f":-0.001,"g":0,"h":0.003,"i":0.016,"j":0.018,"k":0.026,"l":0.028,"m":0.041,"n":0.041,"o":0.053},
{"t":0.2025,"a":-0.025,"b":-0.027,"c":-0.02,"d":-0.009,"e":-0.008,"f":-0.002,"g":-0.002,"h":0.006,"i":0.017,"j":0.017,"k":0.029,"l":0.033,"m":0.034,"n":0.046,"o":0.048},
{"t":0.2075,"a":-0.028,"b":-0.027,"c":-0.017,"d":-0.01,"e":-0.01,"f":-0.002,"g":0.002,"h":0.005,"i":0.009,"j":0.022,"k":0.028,"l":0.029,"m":0.042,"n":0.041,"o":0.05},
{"t":0.2125,"a":-0.029,"b":-0.022,"c":-0.02,"d":-0.012,"e":-0.004,"f":-0.008,"g":-0.001,"h":0.01,"i":0.015,"j":0.017,"k":0.03,"l":0.034,"m":0.037,"n":0.047,"o":0.047},
{"t":0.2175,"a":-0.032,"b":-0.022,"c":-0.015,"d":-0.014,"e":-0.006,"f":-0.007,"g":0.005,"h":0.009,"i":0.012,"j":0.022,"k":0.022,"l":0.03,"m":0.039,"n":0.041,"o":0.055},
{"t":0.2225,"a":-0.03,"b":-0.02,"c":-0.021,"d":-0.015,"e":-0.004,"f":-0.006,"g":0,"h":0.003,"i":0.016,"j":0.017,"k":0.022,"l":0.033,"m":0.038,"n":0.048,"o":0.053},
{"t":0.2275,"a":-0.026,"b":-0.026,"c":-0.015,"d":-0.01,"e":-0.012,"f":-0.002,"g":0.001,"h":0.008,"i":0.01,"j":0.024,"k":0.025,"l":0.029,"m":0.04,"n":0.043,"o":0.054},
{"t":0.2325,"a":-0.026,"b":-0.02,"c":-0.022,"d":-0.012,"e":-0.011,"f":0,"g":-0.002,"h":0.009,"i":0.01,"j":0.021,"k":0.029,"l":0.035,"m":0.036,"n":0.049,"o":0.05},
{"t":0.2375,"a":-0.024,"b":-0.026,"c":-0.016,"d":-0.012,"e":-0.009,"f":-0.007,"g":0.005,"h":0.01,"i":0.012,"j":0.024,"k":0.027,"l":0.035,"m":0.041,"n":0.044,"o":0.049},
{"t":0.2425,"a":-0.031,"b":-0.019,"c":-0.022,"d":-0.015,"e":-0.008,"f":-0.006,"g":0.005,"h":0.006,"i":0.017,"j":0.017,"k":0.028,"l":0.035,"m":0.037,"n":0.049,"o":0.051},
{"t":0.2475,"a":-0.029,"b":-0.025,"c":-0.016,"d":-0.016,"e":-0.004,"f":-0.005,"g":-0.001,"h":0.011,"i":0.011,"j":0.024,"k":0.024,"l":0.031,"m":0.042,"n":0.041,"o":0.053},
{"t":0.2525,"a":-0.031,"b":-0.023,"c":-0.022,"d":-0.009,"e":-0.01,"f":0,"g":-0.002,"h":0.009,"i":0.014,"j":0.016,"k":0.03,"l":0.031,"m":0.037,"n":0.046,"o":0.058},
{"t":0.2575,"a":-0.028,"b":-0.024,"c":-0.017,"d":-0.009,"e":-0.006,"f":-0.001,"g":-0.002,"h":0.012,"i":0.012,"j":0.02,"k":0.024,"l":0.029,"m":0.043,"n":0.045,"o":0.058},
{"t":0.2625,"a":-0.031,"b":-0.019,"c":-0.018,"d":-0.011,"e":-0.012,"f":-0.003,"g":0.004,"h":0.006,"i":0.017,"j":0.019,"k":0.024,"l":0.037,"m":0.042,"n":0.047,"o":0.05},
{"t":0.2675,"a":-0.027,"b":-0.021,"c":-0.015,"d":-0.017,"e":-0.005,"f":-0.004,"g":0.003,"h":0.005,"i":0.018,"j":0.022,"k":0.025,"l":0.029,"m":0.043,"n":0.048,"o":0.052},
{"t":0.2725,"a":-0.036,"b":-0.026,"c":-0.015,"d":-0.014,"e":-0.011,"f":-0.008,"g":0.003,"h":0.006,"i":0.015,"j":0.022,"k":0.031,"l":0.034,"m":0.036,"n":0.048,"o":0.051},
{"t":0.2775,"a":-0.038,"b":-0.024,"c":-0.014,"d":-0.017,"e":-0.007,"f":-0.001,"g":-0.003,"h":0.008,"i":0.012,"j":0.022,"k":0.031,"l":0.03,"m":0.039,"n":0.045,"o":0.058},
{"t":0.2825,"a":-0.032,"b":-0.019,"c":-0.019,"d":-0.011,"e":-0.011,"f":-0.001,"g":-0.003,"h":0.01,"i":0.011,"j":0.02,"k":0.027,"l":0.038,"m":0.038,"n":0.043,"o":0.056},
{"t":0.2875,"a":-0.03,"b":-0.02,"c":-0.02,"d":-0.009,"e":-0.005,"f":-0.005,"g":0.002,"h":0.01,"i":0.018,"j":0.017,"k":0.025,"l":0.032,"m":0.042,"n":0.044,"o":0.055},
{"t":0.2925,"a":-0.024,"b":-0.021,"c":-0.021,"d":-0.013,"e":-0.005,"f":-0.008,"g":0.003,"h":0.012,"i":0.015,"j":0.018,"k":0.026,"l":0.036,"m":0.036,"n":0.05,"o":0.055},
{"t":0.2975,"a":-0.025,"b":-0.025,"c":-0.014,"d":-0.016,"e":-0.007,"f":-0.005,"g":0.004,"h":0.004,"i":0.013,"j":0.024,"k":0.024,"l":0.034,"m":0.044,"n":0.048,"o":0.058},
{"t":0.3025,"a":-0.031,"b":-0.021,"c":-0.022,"d":-0.012,"e":-0.005,"f":-0.006,"g":0.005,"h":0.007,"i":0.012,"j":0.023,"k":0.028,"l":0.038,"m":0.039,"n":0.044,"o":0.059},
{"t":0.3075,"a":-0.029,"b":-0.026,"c":-0.014,"d":-0.016,"e":-0.006,"f":-0.001,"g":-0.003,"h":0.006,"i":0.016,"j":0.023,"k":0.026,"l":0.037,"m":0.042,"n":0.044,"o":0.056},
{"t":0.3125,"a":-0.032,"b":-0.02,"c":-0.019,"d":-0.011,"e":-0.004,"f":-0.006,"g":0.003,"h":0.011,"i":0.013,"j":0.017,"k":0.032,"l":0.035,"m":0.039,"n":0.049,"o":0.055},
{"t":0.3175,"a":-0.024,"b":-0.026,"c":-0.017,"d":-0.015,"e":-0.012,"f":-0.001,"g":0,"h":0.01,"i":0.019,"j":0.018,"k":0.03,"l":0.033,"m":0.044,"n":0.049,"o":0.052},
{"t":0.3225,"a":-0.026,"b":-0.019,"c":-0.018,"d":-0.012,"e":-0.012,"f":-0.006,"g":0.004,"h":0.004,"i":0.014,"j":0.019,"k":0.032,"l":0.032,"m":0.038,"n":0.051,"o":0.054},
{"t":0.3275,"a":-0.026,"b":-0.025,"c":-0.017,"d":-0.016,"e":-0.009,"f":0,"g":-0.003,"h":0.009,"i":0.015,"j":0.023,"k":0.024,"l":0.037,"m":0.044,"n":0.045,"o":0.058},
{"t":0.3325,"a":-0.03,"b":-0.019,"c":-0.021,"d":-0.01,"e":-0.007,"f":-0.008,"g":0.003,"h":0.005,"i":0.015,"j":0.025,"k":0.025,"l":0.035,"m":0.037,"n":0.051,"o":0.058},
{"t":0.3375,"a":-0.031,"b":-0.024,"c":-0.016,"d":-0.01,"e":-0.007,"f":0,"g":-0.001,"h":0.011,"i":0.019,"j":0.018,"k":0.027,"l":0.035,"m":0.043,"n":0.045,"o":0.06},
{"t":0.3425,"a":-0.029,"b":-0.019,"c":-0.02,"d":-0.01,"e":-0.006,"f":-0.007,"g":0.004,"h":0.007,"i":0.019,"j":0.019,"k":0.028,"l":0.032,"m":0.037,"n":0.052,"o":0.053},
{"t":0.3475,"a":-0.027,"b":-0.027,"c":-0.015,"d":-0.014,"e":-0.01,"f":0,"g":-0.002,"h":0.012,"i":0.013,"j":0.02,"k":0.032,"l":0.031,"m":0.043,"n":0.046,"o":0.055},
{"t":0.3525,"a":-0.024,"b":-0.023,"c":-0.021,"d":-0.015,"e":-0.005,"f":-0.008,"g":0.001,"h":0.009,"i":0.012,"j":0.026,"k":0.026,"l":0.039,"m":0.038,"n":0.049,"o":0.054},
{"t":0.3575,"a":-0.024,"b":-0.024,"c":-0.015,"d":-0.017,"e":-0.011,"f":-0.004,"g":-0.001,"h":0.012,"i":0.012,"j":0.025,"k":0.03,"l":0.039,"m":0.043,"n":0.048,"o":0.057},
{"t":0.3625,"a":-0.032,"b":-0.022,"c":-0.016,"d":-0.009,"e":-0.011,"f":-0.005,"g":0.004,"h":0.006,"i":0.018,"j":0.023,"k":0.024,"l":0.037,"m":0.042,"n":0.053,"o":0.054},
{"t":0.3675,"a":-0.03,"b":-0.021,"c":-0.015,"d":-0.017,"e":-0.01,"f":-0.002,"g":0.005,"h":0.005,"i":0.017,"j":0.022,"k":0.031,"l":0.031,"m":0.045,"n":0.051,"o":0.058},
{"t":0.3725,"a":-0.031,"b":-0.021,"c":-0.022,"d":-0.012,"e":-0.004,"f":-0.002,"g":0.002,"h":0.006,"i":0.017,"j":0.018,"k":0.025,"l":0.034,"m":0.045,"n":0.046,"o":0.061},
{"t":0.3775,"a":-0.025,"b":-0.025,"c":-0.019,"d":-0.017,"e":-0.004,"f":-0.003,"g":-0.001,"h":0.008,"i":0.011,"j":0.025,"k":0.029,"l":0.031,"m":0.046,"n":0.048,"o":0.059},
{"t":0.3825,"a":-0.027,"b":-0.027,"c":-0.02,"d":-0.009,"e":-0.008,"f":-0.005,"g":-0.002,"h":0.01,"i":0.011,"j":0.025,"k":0.025,"l":0.037,"m":0.041,"n":0.053,"o":0.053},
{"t":0.3875,"a":-0.028,"b":-0.026,"c":-0.016,"d":-0.015,"e":-0.01,"f":-0.008,"g":0.005,"h":0.01,"i":0.014,"j":0.023,"k":0.031,"l":0.031,"m":0.04,"n":0.052,"o":0.055},
{"t":0.3925,"a":-0.028,"b":-0.02,"c":-0.022,"d":-0.011,"e":-0.009,"f":-0.007,"g":0.002,"h":0.012,"i":0.017,"j":0.018,"k":0.031,"l":0.035,"m":0.039,"n":0.051,"o":0.061},
{"t":0.3975,"a":-0.025,"b":-0.022,"c":-0.014,"d":-0.013,"e":-0.011,"f":-0.001,"g":0,"h":0.004,"i":0.018,"j":0.021,"k":0.029,"l":0.032,"m":0.046,"n":0.047,"o":0.06},
{"t":0.4025,"a":-0.025,"b":-0.027,"c":-0.02,"d":-0.009,"e":-0.008,"f":-0.002,"g":-0.002,"h":0.007,"i":0.019,"j":0.02,"k":0.032,"l":0.037,"m":0.038,"n":0.051,"o":0.055},
{"t":0.4075,"a":-0.028,"b":-0.027,"c":-0.017,"d":-0.01,"e":-0.01,"f":-0.002,"g":0.002,"h":0.006,"i":0.011,"j":0.025,"k":0.031,"l":0.033,"m":0.046,"n":0.046,"o":0.057},
{"t":0.4125,"a":-0.029,"b":-0.022,"c":-0.02,"d":-0.012,"e":-0.004,"f":-0.008,"g":-0.001,"h":0.011,"i":0.017,"j":0.02,"k":0.033,"l":0.038,"m":0.041,"n":0.052,"o":0.054},
{"t":0.4175,"a":-0.032,"b":-0.022,"c":-0.015,"d":-0.014,"e":-0.006,"f":-0.007,"g":0.005,"h":0.01,"i":0.014,"j":0.025,"k":0.025,"l":0.034,"m":0.043,"n":0.046,"o":0.062},
{"t":0.4225,"a":-0.03,"b":-0.02,"c":-0.021,"d":-0.015,"e":-0.004,"f":-0.006,"g":0,"h":0.004,"i":0.018,"j":0.02,"k":0.025,"l":0.037,"m":0.042,"n":0.053,"o":0.06},
{"t":0.4275,"a":-0.026,"b":-0.026,"c":-0.015,"d":-0.01,"e":-0.012,"f":-0.002,"g":0.001,"h":0.009,"i":0.011,"j":0.026,"k":0.028,"l":0.033,"m":0.043,"n":0.047,"o":0.06},
{"t":0.4325,"a":-0.026,"b":-0.02,"c":-0.022,"d":-0.012,"e":-0.011,"f":0,"g":-0.002,"h":0.01,"i":0.011,"j":0.023,"k":0.032,"l":0.039,"m":0.039,"n":0.053,"o":0.056},
{"t":0.4375,"a":-0.024,"b":-0.026,"c":-0.016,"d":-0.012,"e":-0.009,"f":-0.007,"g":0.005,"h":0.011,"i":0.013,"j":0.026,"k":0.03,"l":0.039,"m":0.044,"n":0.048,"o":0.055},
{"t":0.4425,"a":-0.031,"b":-0.019,"c":-0.022,"d":-0.015,"e":-0.008,"f":-0.006,"g":0.005,"h":0.007,"i":0.018,"j":0.019,"k":0.031,"l":0.039,"m":0.04,"n":0.053,"o":0.057},
{"t":0.4475,"a":-0.029,"b":-0.025,"c":-0.016,"d":-0.016,"e":-0.004,"f":-0.005,"g":-0.001,"h":0.012,"i":0.012,"j":0.026,"k":0.027,"l":0.035,"m":0.045,"n":0.045,"o":0.059},
{"t":0.4525,"a":-0.031,"b":-0.023,"c":-0.022,"d":-0.009,"e":-0.01,"f":0,"g":-0.002,"h":0.009,"i":0.015,"j":0.018,"k":0.032,"l":0.034,"m":0.04,"n":0.05,"o":0.062},
{"t":0.4575,"a":-0.028,"b":-0.024,"c":-0.017,"d":-0.009,"e":-0.006,"f":-0.001,"g":-0.002,"h":0.012,"i":0.013,"j":0.022,"k":0.026,"l":0.032,"m":0.046,"n":0.049,"o":0.062},
{"t":0.4625,"a":-0.031,"b":-0.019,"c":-0.018,"d":-0.011,"e":-0.012,"f":-0.003,"g":0.004,"h":0.006,"i":0.018,"j":0.021,"k":0.026,"l":0.04,"m":0.045,"n":0.051,"o":0.054},
{"t":0.4675,"a":-0.027,"b":-0.021,"c":-0.015,"d":-0.017,"e":-0.005,"f":-0.004,"g":0.003,"h":0.005,"i":0.019,"j":0.024,"k":0.027,"l":0.032,"m":0.046,"n":0.052,"o":0.056},
{"t":0.4725,"a":-0.024,"b":-0.026,"c":-0.015,"d":-0.014,"e":-0.011,"f":-0.008,"g":0.003,"h":0.006,"i":0.016,"j":0.024,"k":0.033,"l":0.037,"m":0.039,"n":0.052,"o":0.055},
{"t":0.4775,"a":-0.026,"b":-0.024,"c":-0.014,"d":-0.017,"e":-0.007,"f":-0.001,"g":-0.003,"h":0.008,"i":0.013,"j":0.023,"k":0.033,"l":0.032,"m":0.042,"n":0.048,"o":0.061},
{"t":0.4825,"a":-0.032,"b":-0.019,"c":-0.019,"d":-0.011,"e":-0.011,"f":-0.001,"g":-0.003,"h":0.01,"i":0.012,"j":0.021,"k":0.029,"l":0.04,"m":0.041,"n":0.046,"o":0.059},
{"t":0.4875,"a":-0.03,"b":-0.02,"c":-0.02,"d":-0.009,"e":-0.005,"f":-0.005,"g":0.002,"h":0.01,"i":0.019,"j":0.018,"k":0.027,"l":0.034,"m":0.045,"n":0.047,"o":0.058},
{"t":0.4925,"a":-0.024,"b":-0.021,"c":-0.021,"d":-0.013,"e":-0.005,"f":-0.008,"g":0.003,"h":0.012,"i":0.016,"j":0.019,"k":0.028,"l":0.038,"m":0.039,"n":0.053,"o":0.058},
{"t":0.4975,"a":-0.025,"b":-0.025,"c":-0.014,"d":-0.016,"e":-0.007,"f":-0.005,"g":0.004,"h":0.004,"i":0.014,"j":0.025,"k":0.026,"l":0.036,"m":0.047,"n":0.051,"o":0.061},
{"t":0.5025,"a":-0.031,"b":-0.021,"c":-0.022,"d":-0.012,"e":-0.005,"f":-0.006,"g":0.005,"h":0.007,"i":0.012,"j":0.024,"k":0.029,"l":0.04,"m":0.041,"n":0.046,"o":0.061},
{"t":0.5075,"a":-0.029,"b":-0.026,"c":-0.014,"d":-0.016,"e":-0.006,"f":-0.001,"g":-0.003,"h":0.006,"i":0.016,"j":0.024,"k":0.027,"l":0.039,"m":0.044,"n":0.046,"o":0.058},
{"t":0.5125,"a":-0.032,"b":-0.02,"c":-0.019,"d":-0.011,"e":-0.004,"f":-0.006,"g":0.003,"h":0.011,"i":0.013,"j":0.018,"k":0.033,"l":0.037,"m":0.041,"n":0.051,"o":0.057},
{"t":0.5175,"a":-0.024,"b":-0.026,"c":-0.017,"d":-0.015,"e":-0.012,"f":-0.001,"g":0,"h":0.01,"i":0.019,"j":0.019,"k":0.031,"l":0.035,"m":0.046,"n":0.051,"o":0.054},
{"t":0.5225,"a":-0.026,"b":-0.019,"c":-0.018,"d":-0.012,"e":-0.012,"f":-0.006,"g":0.004,"h":0.004,"i":0.014,"j":0.02,"k":0.033,"l":0.034,"m":0.04,"n":0.053,"o":0.056},
{"t":0.5275,"a":-0.026,"b":-0.025,"c":-0.017,"d":-0.016,"e":-0.009,"f":0,"g":-0.003,"h":0.009,"i":0.015,"j":0.024,"k":0.025,"l":0.039,"m":0.046,"n":0.047,"o":0.06},
{"t":0.5325,"a":-0.03,"b":-0.019,"c":-0.021,"d":-0.01,"e":-0.007,"f":-0.008,"g":0.003,"h":0.005,"i":0.015,"j":0.026,"k":0.026,"l":0.037,"m":0.039,"n":0.053,"o":0.06},
{"t":0.5375,"a":-0.031,"b":-0.024,"c":-0.016,"d":-0.01,"e":-0.007,"f":0,"g":-0.001,"h":0.011,"i":0.019,"j":0.019,"k":0.028,"l":0.037,"m":0.045,"n":0.047,"o":0.062},
{"t":0.5425,"a":-0.029,"b":-0.019,"c":-0.02,"d":-0.01,"e":-0.006,"f":-0.007,"g":0.004,"h":0.007,"i":0.019,"j":0.02,"k":0.029,"l":0.034,"m":0.039,"n":0.054,"o":0.055},
{"t":0.5475,"a":-0.027,"b":-0.027,"c":-0.015,"d":-0.014,"e":-0.01,"f":0,"g":-0.002,"h":0.012,"i":0.013,"j":0.021,"k":0.033,"l":0.033,"m":0.045,"n":0.048,"o":0.057},
{"t":0.5525,"a":-0.024,"b":-0.023,"c":-0.021,"d":-0.015,"e":-0.005,"f":-0.008,"g":0.001,"h":0.009,"i":0.012,"j":0.026,"k":0.027,"l":0.04,"m":0.039,"n":0.05,"o":0.055},
{"t":0.5575,"a":-0.024,"b":-0.024,"c":-0.015,"d":-0.017,"e":-0.011,"f":-0.004,"g":-0.001,"h":0.012,"i":0.012,"j":0.025,"k":0.031,"l":0.04,"m":0.044,"n":0.049,"o":0.058},
{"t":0.5625,"a":-0.032,"b":-0.022,"c":-0.016,"d":-0.009,"e":-0.011,"f":-0.005,"g":0.004,"h":0.006,"i":0.018,"j":0.023,"k":0.025,"l":0.038,"m":0.043,"n":0.054,"o":0.055},
{"t":0.5675,"a":-0.03,"b":-0.021,"c":-0.015,"d":-0.017,"e":-0.01,"f":-0.002,"g":0.005,"h":0.005,"i":0.017,"j":0.022,"k":0.032,"l":0.032,"m":0.046,"n":0.052,"o":0.059},
{"t":0.5725,"a":-0.031,"b":-0.021,"c":-0.022,"d":-0.012,"e":-0.004,"f":-0.002,"g":0.002,"h":0.006,"i":0.017,"j":0.018,"k":0.026,"l":0.035,"m":0.046,"n":0.047,"o":0.062},
{"t":0.5775,"a":-0.025,"b":-0.025,"c":-0.019,"d":-0.017,"e":-0.004,"f":-0.003,"g":-0.001,"h":0.008,"i":0.011,"j":0.025,"k":0.03,"l":0.032,"m":0.047,"n":0.049,"o":0.06},
{"t":0.5825,"a":-0.027,"b":-0.027,"c":-0.02,"d":-0.009,"e":-0.008,"f":-0.005,"g":-0.002,"h":0.01,"i":0.011,"j":0.025,"k":0.026,"l":0.038,"m":0.042,"n":0.054,"o":0.054},
{"t":0.5875,"a":-0.028,"b":-0.026,"c":-0.016,"d":-0.015,"e":-0.01,"f":-0.008,"g":0.005,"h":0.01,"i":0.014,"j":0.023,"k":0.032,"l":0.032,"m":0.041,"n":0.053,"o":0.056},
{"t":0.5925,"a":-0.028,"b":-0.02,"c":-0.022,"d":-0.011,"e":-0.009,"f":-0.007,"g":0.002,"h":0.012,"i":0.017,"j":0.018,"k":0.032,"l":0.036,"m":0.04,"n":0.052,"o":0.062},
{"t":0.5975,"a":-0.025,"b":-0.022,"c":-0.014,"d":-0.013,"e":-0.011,"f":-0.001,"g":0,"h":0.004,"i":0.018,"j":0.021,"k":0.03,"l":0.033,"m":0.047,"n":0.048,"o":0.061}
]},
"transform":[{"fold":["a","b","c","d","e","f","g","h","i","j","k","l","m","n","o"],"as":["trace","I"]}],
"mark":{"type":"line","color":"#000000","strokeWidth":1.5},
"encoding":{
"x":{"field":"t","type":"quantitative","scale":{"domain":[0,0.7],"nice":false,"zero":false},
"axis":{"values":[0.1,0.6],"format":".1f","grid":false,"domainColor":"#555555","domainWidth":1,"tickColor":"#555555","tickWidth":1,"tickSize":-6,"labelPadding":20,"labelFontSize":21,"labelColor":"#262626","labelFont":"DejaVu Sans","title":"t [s]","titleFont":"DejaVu Sans","titleFontSize":24,"titleFontWeight":"normal","titleColor":"#262626","titleX":301,"titleY":59,"titleAlign":"center","titleBaseline":"alphabetic"}},
"y":{"field":"I","type":"quantitative","scale":{"domain":[-0.063,0.0791],"nice":false,"zero":false},
"axis":{"values":[-0.06,-0.03,0,0.03,0.06],"labelExpr":"'' + datum.value","grid":false,"domainColor":"#555555","domainWidth":1,"tickColor":"#555555","tickWidth":1,"tickSize":-6,"labelPadding":13,"labelFontSize":21,"labelColor":"#262626","labelFont":"DejaVu Sans","title":"I [nA]","titleFont":"DejaVu Sans","titleFontSize":24,"titleFontWeight":"normal","titleColor":"#262626","titleX":-79,"titleY":234.5,"titleAngle":270,"titleAlign":"center","titleBaseline":"alphabetic"}},
"detail":{"field":"trace","type":"nominal"}
}
},
{
"data":{"values":[{"label":"25 °C\u00a0\u00a0Activation"}]},
"mark":{"type":"text","align":"right","baseline":"alphabetic","fontSize":19,"font":"DejaVu Sans","color":"#000000"},
"encoding":{
"x":{"datum":0.6988,"type":"quantitative","axis":{"orient":"top","labels":false,"ticks":false,"domain":false,"grid":false,"title":"TASK2\u00a0\u00a0Rat\u00a0\u00a0CHO_FT","titleFont":"DejaVu Sans","titleFontSize":23,"titleFontWeight":"bold","titleColor":"#000000","titleX":14,"titleY":-16,"titleAngle":0,"titleAlign":"left","titleBaseline":"alphabetic"}},
"y":{"datum":0.0777,"type":"quantitative","axis":{"orient":"right","labels":false,"ticks":false,"domain":false,"grid":false,"title":"BBP Channelpedia ID 29166 rep 2","titleFont":"DejaVu Sans","titleFontSize":13,"titleFontWeight":"normal","titleColor":"#000000","titleX":14.5,"titleY":226,"titleAngle":270,"titleAlign":"center","titleBaseline":"alphabetic"}},
"text":{"field":"label"}
}
}
],
"resolve":{"axis":{"x":"independent","y":"independent"}}
}
